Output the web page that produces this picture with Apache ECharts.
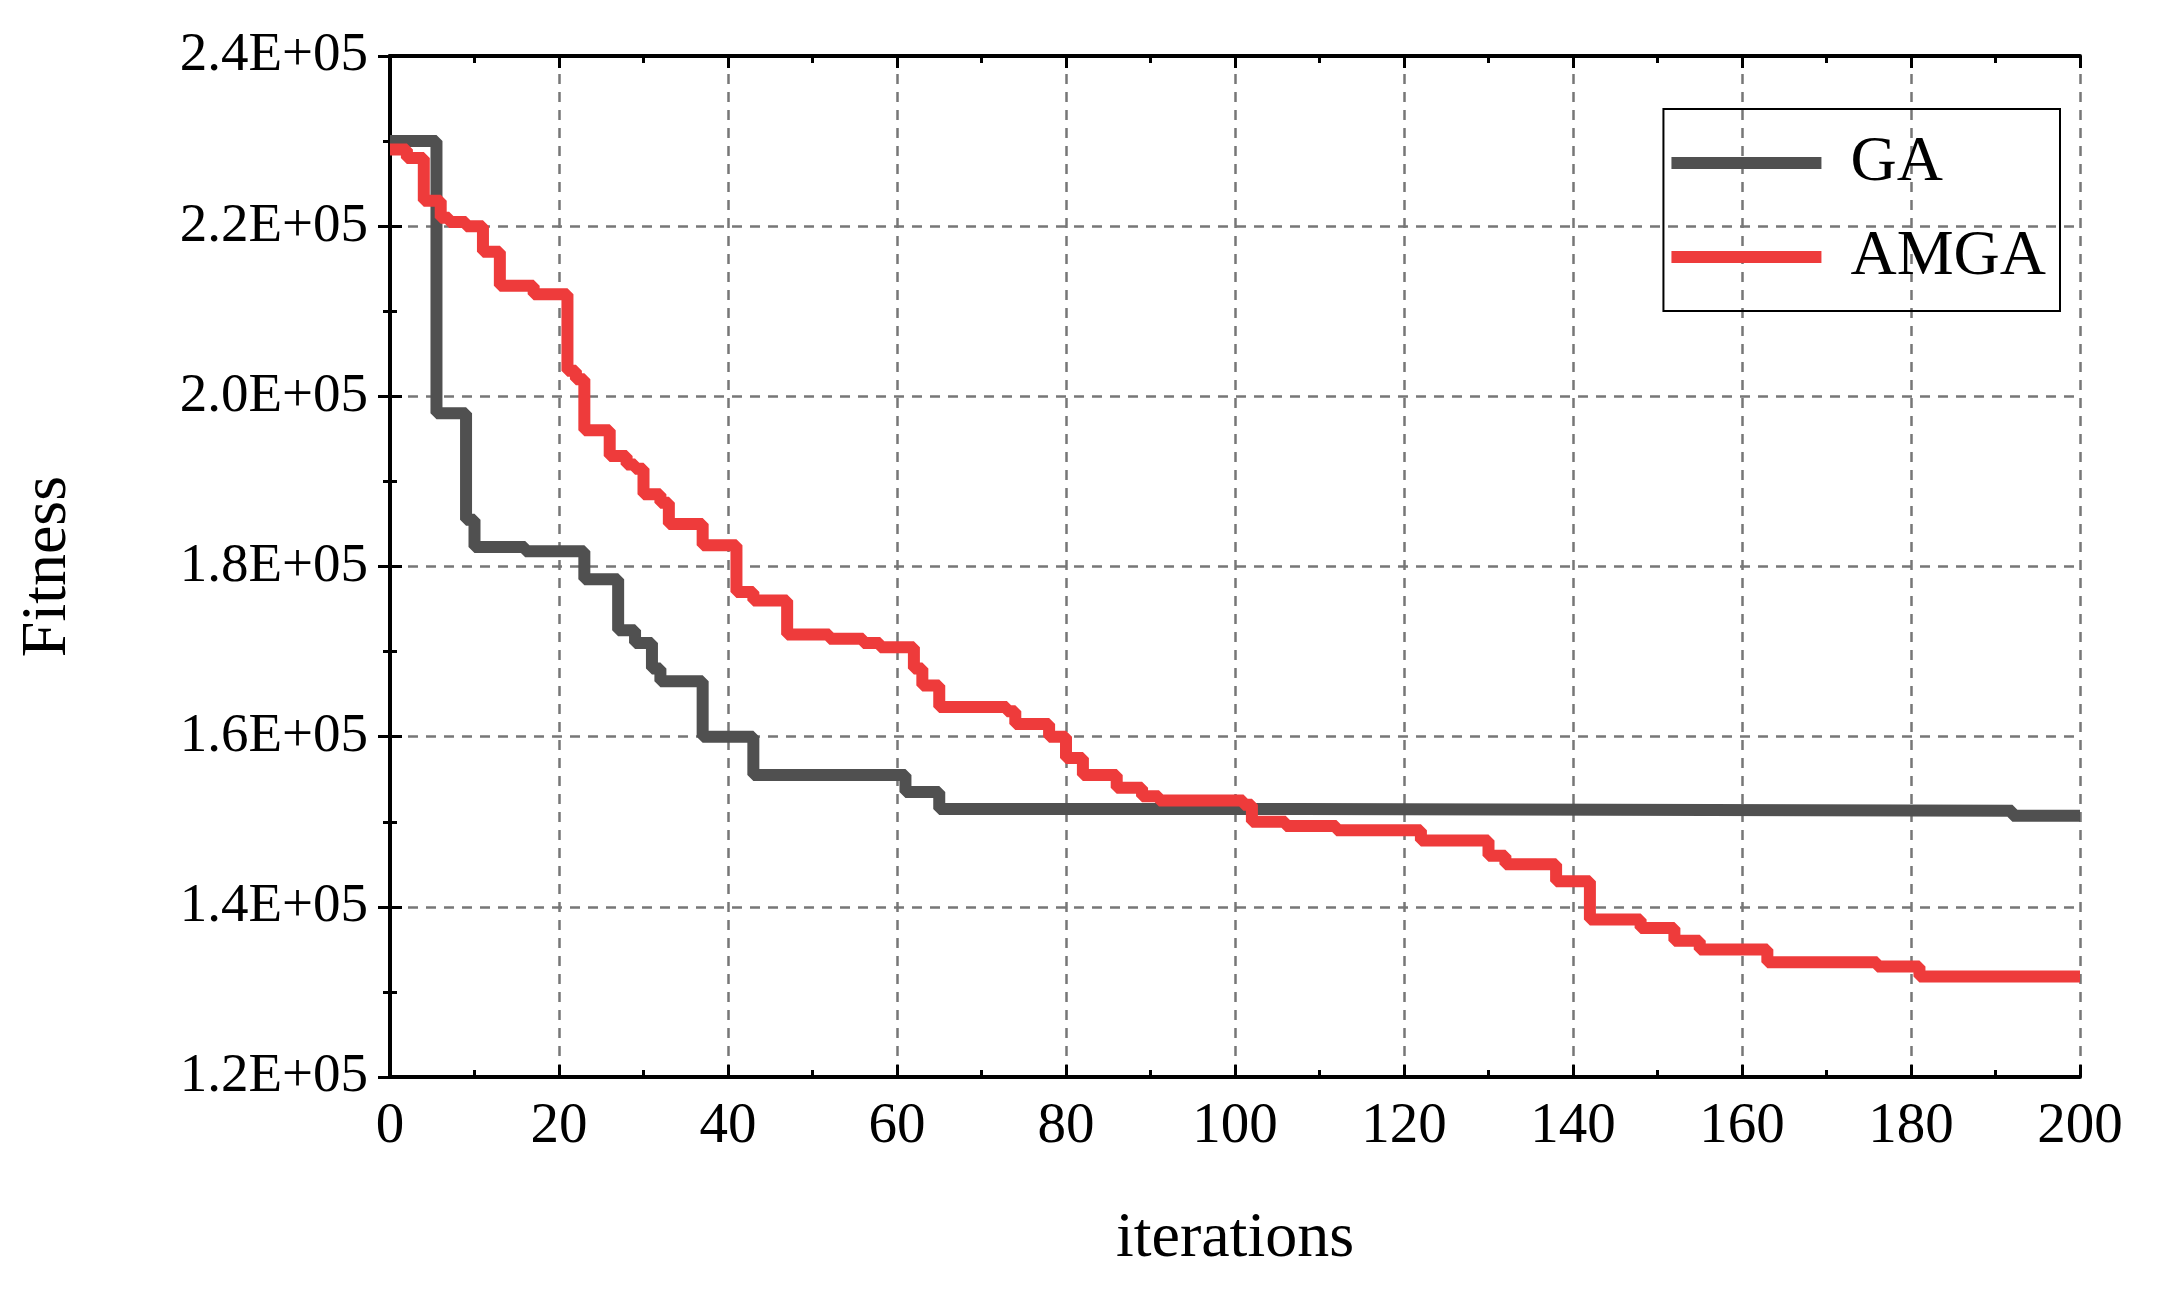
<!DOCTYPE html>
<html>
<head>
<meta charset="utf-8">
<script src="https://cdn.jsdelivr.net/npm/echarts@6/dist/echarts.min.js"></script>
<style>html,body{margin:0;padding:0;background:#fff}#chart{width:2175px;height:1301px}</style>
</head>
<body>
<div id="chart"></div>
<script>
// 数据：[迭代次数, 适应度]，按阶梯变化点给出
const seriesNames = ['GA', 'AMGA'];
const gaData = [
    [0, 230000], [5, 230000], [5.5, 198000], [9, 185500], [10, 182300], [16, 181800],
    [23, 178500], [27, 172500], [29, 171000], [31, 168000], [32, 166500], [37, 160000],
    [43, 155500], [61, 153500], [65, 151500], [108, 151300], [192, 150700], [200, 150700]
];
const amgaData = [
    [0, 229000], [2, 228000], [4, 223000], [6, 221000], [7, 220500], [9, 220000],
    [11, 217000], [13, 213000], [17, 212000], [21, 203000], [22, 202000], [23, 196000],
    [26, 193000], [28, 192000], [29, 191500], [30, 188500], [32, 187500], [33, 185000],
    [37, 182500], [41, 177000], [43, 176000], [47, 172000], [52, 171500], [56, 171000],
    [58, 170500], [62, 168000], [63, 166000], [65, 163500], [73, 163000], [74, 161500],
    [78, 160000], [80, 157500], [82, 155500], [86, 154000], [89, 153000], [91, 152500],
    [101, 152000], [102, 150000], [106, 149500], [112, 149000], [122, 147800], [130, 146000],
    [132, 145000], [138, 143000], [142, 138500], [148, 137500], [152, 136000], [155, 135000],
    [163, 133500], [176, 133000], [181, 131800], [200, 131800]
];
const colors = ['#505050', '#ee3b3b'];

const chart = echarts.init(document.getElementById('chart'));
const font = 'Liberation Serif';
const lineStyleAxis = { color: '#000', width: 4 };
const option = {
    animation: false,
    grid: { left: 390, right: 95, top: 56, bottom: 224 },
    legend: {
        right: 115, top: 109, orient: 'vertical',
        padding: [22, 14, 22, 8], itemGap: 30,
        borderColor: '#000', borderWidth: 2,
        itemWidth: 150, itemHeight: 12,
        icon: 'rect',
        textStyle: { fontFamily: font, fontSize: 64, color: '#000', padding: [0, 0, 0, 24] },
        data: seriesNames
    },
    xAxis: [{
        type: 'value', min: 0, max: 200, interval: 20,
        name: 'iterations', nameLocation: 'middle', nameGap: 130,
        nameTextStyle: { fontFamily: font, fontSize: 64, color: '#000' },
        axisLine: { lineStyle: lineStyleAxis },
        axisTick: { inside: true, length: 12, lineStyle: { width: 3, color: '#000' } },
        minorTick: { show: true, splitNumber: 2, length: 7, lineStyle: { width: 3, color: '#000' } },
        axisLabel: { fontFamily: font, fontSize: 57, color: '#000', margin: 22 },
        splitLine: { show: true, lineStyle: { type: [10, 8], color: '#777', width: 2.5 } }
    }, {
        type: 'value', min: 0, max: 200, interval: 20, position: 'top',
        axisLine: { lineStyle: lineStyleAxis },
        axisTick: { inside: true, length: 12, lineStyle: { width: 3, color: '#000' } },
        minorTick: { show: true, splitNumber: 2, length: 7, lineStyle: { width: 3, color: '#000' } },
        axisLabel: { show: false }, splitLine: { show: false }
    }],
    yAxis: [{
        type: 'value', min: 120000, max: 240000, interval: 20000,
        name: 'Fitness', nameLocation: 'middle', nameGap: 310,
        nameTextStyle: { fontFamily: font, fontSize: 64, color: '#000' },
        axisLine: { show: true, lineStyle: lineStyleAxis },
        axisTick: { show: true, inside: true, length: 12, lineStyle: { width: 3, color: '#000' } },
        minorTick: { show: true, splitNumber: 2, length: 7, lineStyle: { width: 3, color: '#000' } },
        axisLabel: {
            fontFamily: font, fontSize: 55, color: '#000', margin: 22,
            formatter: v => (v / 100000).toFixed(1) + 'E+05'
        },
        splitLine: { show: true, lineStyle: { type: [10, 8], color: '#777', width: 2.5 } }
    }, {
        type: 'value', min: 120000, max: 240000, interval: 20000, position: 'right',
        axisLine: { show: true, lineStyle: lineStyleAxis },
        axisTick: { show: true, inside: true, length: 12, lineStyle: { width: 3, color: '#000' } },
        minorTick: { show: true, splitNumber: 2, length: 7, lineStyle: { width: 3, color: '#000' } },
        axisLabel: { show: false }, splitLine: { show: false }
    }],
    series: [
        {
            name: 'GA', type: 'line', step: 'end', data: gaData, showSymbol: false,
            itemStyle: { color: colors[0] }, lineStyle: { color: colors[0], width: 12 }, z: 3
        },
        {
            name: 'AMGA', type: 'line', step: 'end', data: amgaData, showSymbol: false,
            itemStyle: { color: colors[1] }, lineStyle: { color: colors[1], width: 12 }, z: 4
        }
    ]
};
chart.setOption(option);
</script>
</body>
</html>
